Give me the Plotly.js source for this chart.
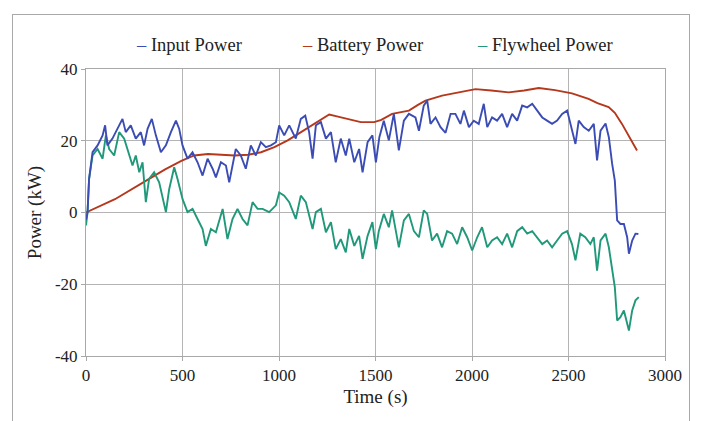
<!DOCTYPE html>
<html>
<head>
<meta charset="utf-8">
<script src="https://cdn.plot.ly/plotly-3.0.1.min.js"></script>
<style>
  html, body { margin: 0; padding: 0; background: #ffffff; }
  #frame { position: absolute; left: 12px; top: 14px; width: 678px; height: 440px;
           border: 1.5px solid #a9a9a9; box-sizing: border-box; }
  #chart { position: absolute; left: 0; top: 0; width: 701px; height: 421px; }
</style>
</head>
<body>
<div id="frame"></div>
<div id="chart"></div>
<script>
// Input power (kW) over time (s)
const inputTime = [0, 8, 16, 34, 60, 86, 99, 111, 137, 163, 189, 206, 232, 258, 284, 301, 319, 341, 362, 388,
  414, 440, 466, 483, 500, 526, 552, 578, 604, 630, 656, 673, 699, 725, 742, 776, 802, 828, 854, 880,
  906, 932, 958, 984, 1001, 1027, 1053, 1087, 1113, 1136, 1156, 1174, 1191, 1217, 1243, 1269, 1294, 1320, 1346, 1364,
  1390, 1415, 1433, 1459, 1484, 1502, 1520, 1543, 1569, 1595, 1621, 1647, 1673, 1707, 1725, 1750, 1768, 1785, 1811, 1837,
  1863, 1889, 1914, 1940, 1958, 1984, 2009, 2035, 2061, 2079, 2104, 2130, 2156, 2182, 2208, 2234, 2260, 2286, 2312, 2338,
  2364, 2389, 2415, 2441, 2467, 2493, 2510, 2536, 2553, 2579, 2605, 2631, 2648, 2666, 2692, 2709, 2726, 2740, 2752, 2769,
  2787, 2804, 2813, 2830, 2847, 2862];
const inputKW = [-2, 0, 9.4, 16.8, 18.7, 21.5, 24.3, 18.7, 20.6, 23.3, 26.1, 22.4, 24.3, 20.6, 22.4, 18.7, 23.3, 26.1, 21.5, 16.8,
  18.7, 22.4, 25.6, 23.3, 18.7, 15.0, 16.8, 14.0, 10.3, 15.0, 12.2, 9.8, 14.0, 13.1, 8.4, 17.7, 15.9, 12.2, 18.7, 15.9,
  19.6, 18.2, 18.7, 19.6, 24.3, 21.5, 24.3, 20.6, 26.1, 27.0, 22.4, 15.0, 24.3, 25.2, 20.6, 22.4, 14.0, 20.6, 15.9, 20.6,
  14.0, 17.7, 11.2, 19.6, 21.5, 14.0, 21.0, 25.6, 20.1, 27.5, 17.3, 25.6, 27.5, 26.5, 22.8, 29.8, 31.2, 24.7, 26.5, 23.8,
  22.2, 27.5, 27.5, 24.7, 28.4, 23.8, 25.6, 24.7, 30.3, 23.8, 26.5, 25.6, 27.5, 23.8, 27.5, 25.6, 29.8, 29.3, 30.3, 28.4,
  26.5, 25.6, 24.7, 25.6, 27.5, 28.4, 24.7, 19.1, 25.6, 23.8, 22.8, 24.7, 14.5, 22.8, 24.8, 21.0, 13.6, 8.9, -2.2, -3.2,
  -3.2, -6.9, -11.5, -7.8, -5.9, -6.0];

// Battery power (kW) over time (s)
const batteryTime = [0, 150, 325, 410, 494, 560, 632, 700, 770, 840, 907, 976, 1045, 1114, 1183, 1230, 1260, 1300, 1355, 1424,
  1493, 1530, 1586, 1673, 1720, 1759, 1845, 1932, 2018, 2100, 2190, 2270, 2346, 2430, 2518, 2604, 2650, 2708, 2740, 2777,
  2820, 2855];
const batteryKW = [0, 3.7, 9.3, 12.0, 14.4, 15.9, 16.3, 16.1, 15.9, 16.1, 16.8, 18.2, 20.1, 22.4, 24.7, 26.5, 27.3, 26.8, 26.1, 25.2,
  25.2, 25.8, 27.5, 28.4, 30.0, 31.2, 32.6, 33.5, 34.4, 34.0, 33.5, 34.0, 34.7, 34.1, 33.2, 31.7, 30.5, 29.4, 27.8, 24.7,
  20.5, 17.3];

// Flywheel power (kW) over time (s)
const flywheelTime = [0, 8, 16, 34, 60, 86, 103, 120, 146, 172, 198, 224, 241, 258, 276, 293, 310, 327, 353, 379,
  396, 414, 431, 457, 474, 500, 526, 552, 578, 604, 621, 647, 673, 708, 733, 759, 785, 811, 837, 863,
  889, 915, 949, 984, 1001, 1027, 1053, 1087, 1113, 1139, 1174, 1191, 1217, 1243, 1269, 1294, 1320, 1346, 1364, 1390,
  1415, 1433, 1459, 1484, 1502, 1517, 1543, 1569, 1586, 1621, 1647, 1673, 1699, 1725, 1750, 1768, 1793, 1819, 1845, 1871,
  1897, 1923, 1949, 1975, 2001, 2027, 2052, 2079, 2104, 2130, 2156, 2182, 2208, 2234, 2260, 2286, 2312, 2338, 2364, 2389,
  2415, 2441, 2467, 2493, 2518, 2536, 2561, 2587, 2613, 2631, 2648, 2666, 2692, 2709, 2726, 2740, 2752, 2769, 2787, 2804,
  2813, 2830, 2847, 2864];
const flywheelKW = [-3.6, 0.1, 9.4, 15.9, 17.7, 15.0, 21.5, 17.7, 15.9, 22.4, 20.6, 15.9, 13.1, 15.9, 11.2, 14.0, 2.9, 9.4, 11.2, 8.4,
  4.7, 0.1, 6.5, 12.6, 9.4, 3.8, 0.1, 1.0, -1.8, -4.6, -9.3, -4.6, -5.5, 1.0, -7.4, -1.8, 1.0, -1.8, -3.6, 2.9,
  1.0, 1.0, 0.1, 2.0, 5.6, 4.7, 2.9, -1.8, 4.7, 2.9, -4.6, 0.1, 1.0, -5.5, -2.7, -10.2, -7.4, -11.1, -4.6, -9.3,
  -6.5, -12.9, -6.5, -2.7, -10.2, -5.2, -0.4, -4.1, 0.6, -9.7, -2.2, -0.4, -5.2, -6.9, 0.6, -0.4, -7.8, -5.9, -9.7, -5.2,
  -5.9, -8.8, -4.1, -6.9, -10.6, -6.9, -4.1, -9.7, -7.8, -6.9, -8.8, -5.9, -9.7, -5.2, -4.1, -5.9, -5.2, -6.9, -8.8, -7.8,
  -9.7, -7.8, -5.9, -5.2, -8.8, -13.3, -5.9, -6.9, -8.8, -6.9, -16.2, -7.8, -5.9, -9.7, -15.2, -20.8, -30.1, -29.2, -27.3, -31.0,
  -32.9, -27.3, -24.5, -23.6];

const seriesNames = ['Input Power', 'Battery Power', 'Flywheel Power'];
const seriesColors = ['#3b4cb4', '#b5381c', '#20987a'];
const xTicks = [0, 500, 1000, 1500, 2000, 2500, 3000];
const yTicks = [-40, -20, 0, 20, 40];

const FONT = 'Liberation Serif, Times New Roman, serif';

function lineTrace(x, y, i) {
  return {
    x: x, y: y, name: seriesNames[i], type: 'scatter', mode: 'lines',
    line: { color: seriesColors[i], width: 1.9 },
    showlegend: false, hoverinfo: 'skip'
  };
}

const traces = [
  lineTrace(batteryTime, batteryKW, 1),
  lineTrace(flywheelTime, flywheelKW, 2),
  lineTrace(inputTime, inputKW, 0)
];

// Legend drawn as a row of labels with a short coloured dash in front of each
const legendX = [0.178, 0.477, 0.793];
const annotations = seriesNames.map((name, i) => ({
  xref: 'paper', yref: 'paper', x: legendX[i], y: 1.085, xanchor: 'center', yanchor: 'middle',
  showarrow: false,
  text: '<span style="color:' + seriesColors[i] + '">–</span> ' + name,
  font: { family: FONT, size: 18.5, color: '#222' }
}));

const axisCommon = {
  showline: true, mirror: true, linecolor: '#a8a8a8', linewidth: 1,
  showgrid: true, gridcolor: '#b4b4b4', gridwidth: 1,
  zeroline: false,
  ticks: 'outside', ticklen: 4, tickcolor: '#a8a8a8',
  tickfont: { family: FONT, size: 17, color: '#222' }
};

const layout = {
  width: 701, height: 421,
  margin: { l: 86, r: 36, t: 69, b: 65 },
  paper_bgcolor: 'rgba(0,0,0,0)',
  plot_bgcolor: '#ffffff',
  showlegend: false,
  xaxis: Object.assign({}, axisCommon, {
    range: [0, 3000], tickvals: xTicks, ticktext: xTicks.map(String),
    title: { text: 'Time (s)', font: { family: FONT, size: 19, color: '#222' }, standoff: 5 }
  }),
  yaxis: Object.assign({}, axisCommon, {
    range: [-40, 40], tickvals: yTicks, ticktext: yTicks.map(String),
    title: { text: 'Power (kW)', font: { family: FONT, size: 19, color: '#222' }, standoff: 8 }
  }),
  annotations: annotations
};

Plotly.newPlot('chart', traces, layout, { displayModeBar: false, staticPlot: true });
</script>
</body>
</html>
